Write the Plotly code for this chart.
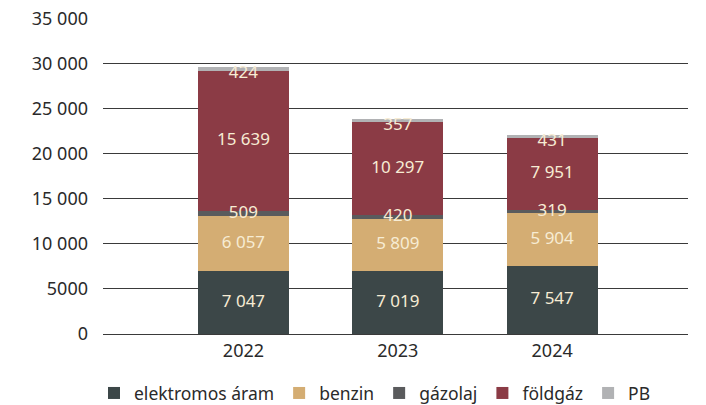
import plotly.graph_objects as go

years = ["2022", "2023", "2024"]
series_names = ["elektromos áram", "benzin", "gázolaj", "földgáz", "PB"]
elektromos = [7047, 7019, 7547]
benzin = [6057, 5809, 5904]
gazolaj = [509, 420, 319]
foldgaz = [15639, 10297, 7951]
pb = [424, 357, 431]

y_tickvals = [0, 5000, 10000, 15000, 20000, 25000, 30000, 35000]
y_ticktext = ["0", "5000", "10 000", "15 000", "20 000", "25 000", "30 000", "35 000"]

colors = ["#3c4748", "#d4ad73", "#5a5b5d", "#8b3b45", "#b1b2b4"]
label_color = "#f7ecd4"
FONT = "Noto Sans"


def fmt(v):
    return f"{v:,}".replace(",", " ")


fig = go.Figure()

all_series = [elektromos, benzin, gazolaj, foldgaz, pb]
base = [0, 0, 0]
for name, vals, col in zip(series_names, all_series, colors):
    fig.add_trace(go.Bar(
        x=years, y=vals, name=name,
        marker=dict(color=col, line=dict(width=0)),
        hoverinfo="skip",
    ))
    # labels in the middle of each segment (PB a bit lower so it sits on the red)
    shift = -600 if name == "PB" else 0
    ys = [b + v / 2 + shift for b, v in zip(base, vals)]
    fig.add_trace(go.Scatter(
        x=years, y=ys, mode="text",
        text=[fmt(v) for v in vals],
        textfont=dict(family=FONT, size=17, color=label_color),
        showlegend=False, hoverinfo="skip", cliponaxis=False,
    ))
    base = [b + v for b, v in zip(base, vals)]

# the page body adds an 8px offset, margins compensate for it
fig.update_layout(
    barmode="stack",
    bargap=0.41,
    width=706, height=405,
    margin=dict(l=95, r=26, t=10, b=79, autoexpand=False),
    plot_bgcolor="white",
    paper_bgcolor="white",
    font=dict(family=FONT, size=18, color="#2a2a2a"),
    showlegend=True,
    legend=dict(
        orientation="h", x=-0.0154, xanchor="left", y=-0.187, yanchor="middle",
        font=dict(size=17.5, color="#2a2a2a"),
        itemwidth=30, traceorder="normal",
    ),
    xaxis=dict(
        type="category", range=[-0.91, 2.88],
        showgrid=False, showline=False, ticks="",
        tickfont=dict(size=18), ticklabelstandoff=4,
    ),
    yaxis=dict(
        range=[0, 35100],
        tickvals=y_tickvals, ticktext=y_ticktext,
        ticklabeloverflow="allow",
        showgrid=True, gridcolor="#3a3a3a", gridwidth=1,
        zeroline=True, zerolinecolor="#3a3a3a", zerolinewidth=1,
        showline=False, ticks="", ticklabelstandoff=14,
        tickfont=dict(size=18),
    ),
)

fig.write_html("out.html")
